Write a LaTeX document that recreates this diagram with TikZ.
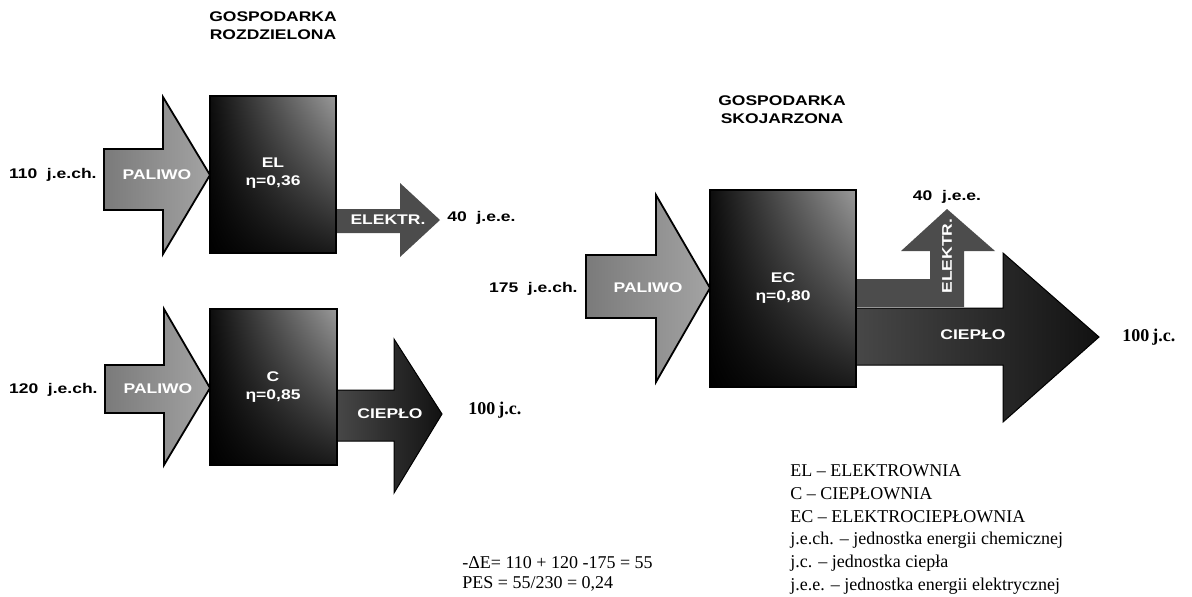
\documentclass[tikz,border=0pt]{standalone}
\usepackage{fontspec}
\setmainfont{Liberation Serif}
\newfontfamily\diagsf[FakeStretch=1.25]{Liberation Sans}
\usetikzlibrary{shadings}

\tikzset{
  plantbox/.style={draw=black,line width=0.6pt,upper right=black!40,upper left=black!95,lower left=black,lower right=black!90},
  fuelarrow/.style={draw=black,line width=0.9pt,left color=black!52,right color=black!36},
  elarrow/.style={fill=black!70},
  heatarrow/.style={draw=black,line width=0.5pt,left color=black!72,right color=black!93},
  intext/.style={white,inner sep=0pt,align=center,font=\diagsf\bfseries\fontsize{7}{9}\selectfont},
  outtext/.style={black,inner sep=0pt,align=center,font=\diagsf\bfseries\fontsize{7}{9}\selectfont},
  unittext/.style={black,inner sep=0pt,anchor=west,font=\bfseries\fontsize{9}{10}\selectfont},
  legtext/.style={black,inner sep=0pt,anchor=west,font=\fontsize{9}{11}\selectfont}
}

\begin{document}
\begin{tikzpicture}[x=0.5pt,y=-0.5pt]
\useasboundingbox (0,0) rectangle (1192,596);
% TITLES
\node [outtext] (titlesep) at (273,26) {GOSPODARKA\\ROZDZIELONA};
\node [outtext] (titlecog) at (782,110) {GOSPODARKA\\SKOJARZONA};
% ELEKTROWNIA
\draw [fuelarrow] (104,149) -- (163,149) -- (163,97) -- (210,175) -- (163,254) -- (163,210) -- (104,210) -- cycle;
\path [elarrow] (336,209) -- (400,209) -- (400,183) -- (440,220) -- (400,257) -- (400,233) -- (336,233) -- cycle;
\draw [plantbox] (210,96) rectangle (336,253);
\node [intext] (fuelel) at (157,175) {PALIWO};
\node [intext] (boxel) at (273,173) {EL\\η=0,36};
\node [intext] (outel) at (388,220) {ELEKTR.};
\node [outtext,anchor=east] (inel) at (97,175) {110\ \ j.e.ch.};
\node [outtext,anchor=west] (elval) at (447,218) {40\ \ j.e.e.};
% CIEPLOWNIA
\draw [fuelarrow] (105,365) -- (164,365) -- (164,309) -- (210,388) -- (164,465) -- (164,413) -- (105,413) -- cycle;
\draw [heatarrow] (337,390) -- (394,390) -- (394,339) -- (442,414) -- (394,493) -- (394,441) -- (337,441) -- cycle;
\draw [plantbox] (210,309) rectangle (337,465);
\node [intext] (fuelc) at (158,389) {PALIWO};
\node [intext] (boxc) at (273,387) {C\\η=0,85};
\node [intext] (outc) at (390,414) {CIEPŁO};
\node [outtext,anchor=east] (inc) at (98,390) {120\ \ j.e.ch.};
\node [unittext] (cval) at (468,410) {100\,j.c.};
% ELEKTROCIEPLOWNIA
\draw [fuelarrow] (586,255) -- (656,255) -- (656,195) -- (710,288) -- (656,382) -- (656,318) -- (586,318) -- cycle;
\path [elarrow] (855,279) -- (930,279) -- (930,251) -- (901,251) -- (947,209) -- (995,251) -- (964,251) -- (964,307) -- (855,307) -- cycle;
\draw [heatarrow] (855,308) -- (1003,308) -- (1003,253) -- (1099,337) -- (1003,422) -- (1003,365) -- (855,365) -- cycle;
\draw [plantbox] (710,190) rectangle (856,387);
\node [intext] (fuelec) at (648,288) {PALIWO};
\node [intext] (boxec) at (783,288) {EC\\η=0,80};
\node [intext,rotate=90] (outecel) at (947,256) {ELEKTR.};
\node [intext] (outecc) at (973,335) {CIEPŁO};
\node [outtext,anchor=east] (inec) at (578,289) {175\ \ j.e.ch.};
\node [outtext] (ecel) at (947,197) {40\ \ j.e.e.};
\node [unittext] (ecc) at (1122,337) {100\,j.c.};
% BILANS
\node [legtext] (dele) at (462,563) {-ΔE= 110 + 120 -175 = 55};
\node [legtext] (pes) at (462,584) {PES = 55/230 = 0,24};
% LEGENDA
\node [legtext] (legel) at (790,471) {EL -- ELEKTROWNIA};
\node [legtext] (legc) at (790,494) {C -- CIEPŁOWNIA};
\node [legtext] (legec) at (790,517) {EC -- ELEKTROCIEPŁOWNIA};
\node [legtext] (legjech) at (790,540) {j.e.ch. -- jednostka energii chemicznej};
\node [legtext] (legjc) at (790,563) {j.c. -- jednostka ciepła};
\node [legtext] (legjee) at (790,586) {j.e.e. -- jednostka energii elektrycznej};
\end{tikzpicture}
\end{document}
